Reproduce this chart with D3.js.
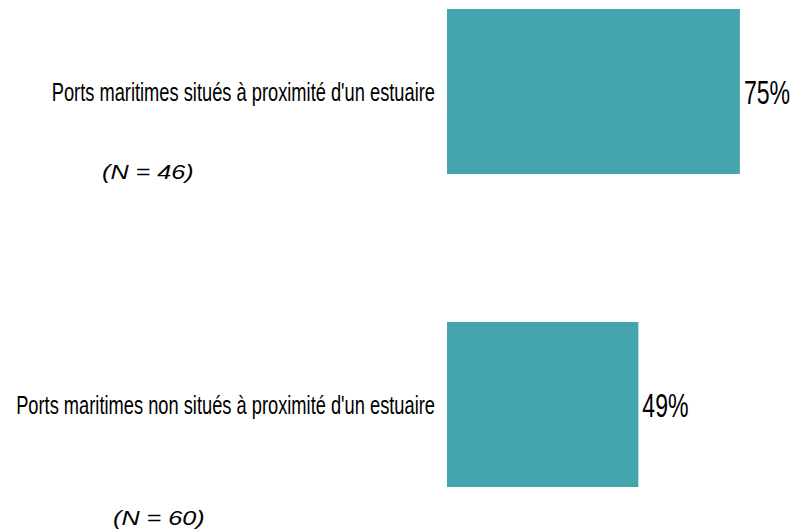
<!DOCTYPE html>
<html>
<head>
<meta charset="utf-8">
<script src="https://cdn.jsdelivr.net/npm/d3@7"></script>
<style>
  html, body { margin: 0; padding: 0; background: #fff; }
  svg { display: block; }
</style>
</head>
<body>
<svg id="chart" width="796" height="531"></svg>
<script>
// Share of seaports, by location relative to an estuary
const categories = [
  "Ports maritimes situés à proximité d'un estuaire",
  "Ports maritimes non situés à proximité d'un estuaire"
];
const values = [75, 49];
const sampleSizes = ["(N = 46)", "(N = 60)"];

const W = 796, H = 531;
const barColor = "#45a5ae";
const narrow = 0.69;   // horizontal squeeze of the condensed labels
const wide = 1.2;      // horizontal stretch of the sample-size notes

const svg = d3.select("#chart");

const x = d3.scaleLinear().domain([0, 100]).range([447, 837.5]);
const y = d3.scaleBand().domain(categories).range([9, 487])
  .paddingInner(0.473).paddingOuter(0);

// Bars
svg.append("g").selectAll("rect")
  .data(categories)
  .join("rect")
  .attr("x", x(0))
  .attr("y", d => y(d))
  .attr("width", (d, i) => x(values[i]) - x(0))
  .attr("height", y.bandwidth())
  .attr("fill", barColor);

// Category labels via a left axis with no lines
const yAxis = svg.append("g")
  .attr("transform", `translate(${x(0)},0)`)
  .call(d3.axisLeft(y).tickSize(0).tickPadding(0));
yAxis.select(".domain").remove();
yAxis.selectAll(".tick text")
  .attr("font-family", "'Liberation Sans', Arial, sans-serif")
  .attr("font-size", 26.5)
  .attr("fill", "#000")
  .attr("text-anchor", "end")
  .attr("x", -12 / narrow)
  .attr("dy", "0.36em")
  .attr("transform", `scale(${narrow},1)`);

// Value labels at bar ends
svg.append("g").selectAll("text")
  .data(categories)
  .join("text")
  .attr("transform", (d, i) =>
    `translate(${x(values[i]) + 4},${y(d) + y.bandwidth() / 2}) scale(${narrow},1)`)
  .attr("dy", "0.36em")
  .attr("font-family", "'Liberation Sans', Arial, sans-serif")
  .attr("font-size", 33.5)
  .attr("fill", "#000")
  .text((d, i) => values[i] + "%");

// Sample-size notes below each label
const notePos = [[102, 179], [113, 525]];
svg.append("g").selectAll("text")
  .data(sampleSizes)
  .join("text")
  .attr("transform", (d, i) => `translate(${notePos[i][0]},${notePos[i][1]}) scale(${wide},1)`)
  .attr("font-family", "'Liberation Sans', Arial, sans-serif")
  .attr("font-style", "italic")
  .attr("font-size", 21)
  .attr("fill", "#000")
  .text(d => d);
</script>
</body>
</html>
